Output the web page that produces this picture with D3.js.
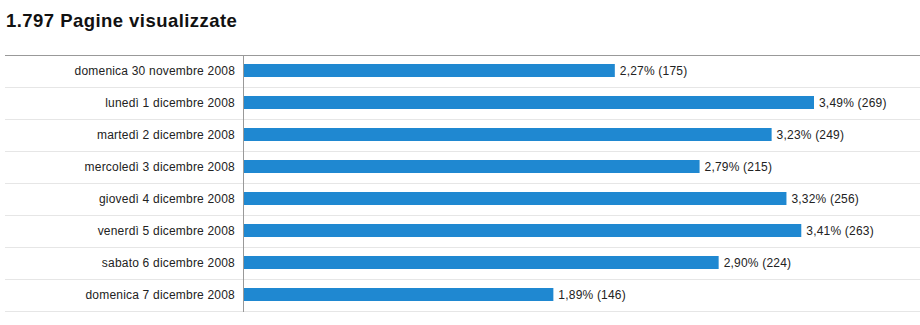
<!DOCTYPE html>
<html>
<head>
<meta charset="utf-8">
<script src="https://cdn.jsdelivr.net/npm/d3@7"></script>
<style>
  html, body { margin: 0; padding: 0; background: #fff; }
  svg { display: block; font-family: Arial, "Liberation Sans", sans-serif; }
</style>
</head>
<body>
<svg id="chart" width="920" height="325"></svg>
<script>
const title = "1.797 Pagine visualizzate";
const days = [
  "domenica 30 novembre 2008",
  "lunedì 1 dicembre 2008",
  "martedì 2 dicembre 2008",
  "mercoledì 3 dicembre 2008",
  "giovedì 4 dicembre 2008",
  "venerdì 5 dicembre 2008",
  "sabato 6 dicembre 2008",
  "domenica 7 dicembre 2008"
];
const pageviews = [175, 269, 249, 215, 256, 263, 224, 146];
const shares = ["2,27%", "3,49%", "3,23%", "2,79%", "3,32%", "3,41%", "2,90%", "1,89%"];

const svg = d3.select("#chart");
const plotLeft = 5, plotRight = 920, plotTop = 55, rowH = 32;
const axisX = 243.5;

svg.append("text")
  .attr("x", 6).attr("y", 27)
  .attr("font-size", 18.5).attr("font-weight", "bold")
  .attr("letter-spacing", 0.45)
  .attr("fill", "#111")
  .text(title);

const y = d3.scaleBand()
  .domain(days)
  .range([plotTop, plotTop + rowH * days.length])
  .paddingInner(0).paddingOuter(0);

const x = d3.scaleLinear()
  .domain([0, d3.max(pageviews)])
  .range([axisX + 0.5, 814]);

// row separators
svg.append("g").selectAll("line")
  .data(days)
  .join("line")
  .attr("x1", plotLeft).attr("x2", plotRight)
  .attr("y1", d => y(d) + rowH + 0.5).attr("y2", d => y(d) + rowH + 0.5)
  .attr("stroke", "#e6e6e6").attr("stroke-width", 1);

// top rule
svg.append("line")
  .attr("x1", plotLeft).attr("x2", plotRight)
  .attr("y1", plotTop + 0.5).attr("y2", plotTop + 0.5)
  .attr("stroke", "#999").attr("stroke-width", 1);

// bars
const barH = 13;
svg.append("g").selectAll("rect")
  .data(pageviews)
  .join("rect")
  .attr("x", x(0))
  .attr("y", (d, i) => y(days[i]) + 9)
  .attr("width", d => x(d) - x(0))
  .attr("height", barH)
  .attr("fill", "#1f88d1");

// vertical axis line
svg.append("line")
  .attr("x1", axisX).attr("x2", axisX)
  .attr("y1", plotTop).attr("y2", plotTop + rowH * days.length + 1)
  .attr("stroke", "#999").attr("stroke-width", 1);

// category labels
svg.append("g").selectAll("text")
  .data(days)
  .join("text")
  .attr("x", 235)
  .attr("y", d => y(d) + 20)
  .attr("text-anchor", "end")
  .attr("font-size", 12)
  .attr("letter-spacing", 0.2)
  .attr("fill", "#222")
  .text(d => d);

// value labels
svg.append("g").selectAll("text")
  .data(pageviews)
  .join("text")
  .attr("x", d => x(d) + 5)
  .attr("y", (d, i) => y(days[i]) + 20)
  .attr("font-size", 12)
  .attr("letter-spacing", 0.2)
  .attr("fill", "#222")
  .text((d, i) => `${shares[i]} (${d})`);
</script>
</body>
</html>
